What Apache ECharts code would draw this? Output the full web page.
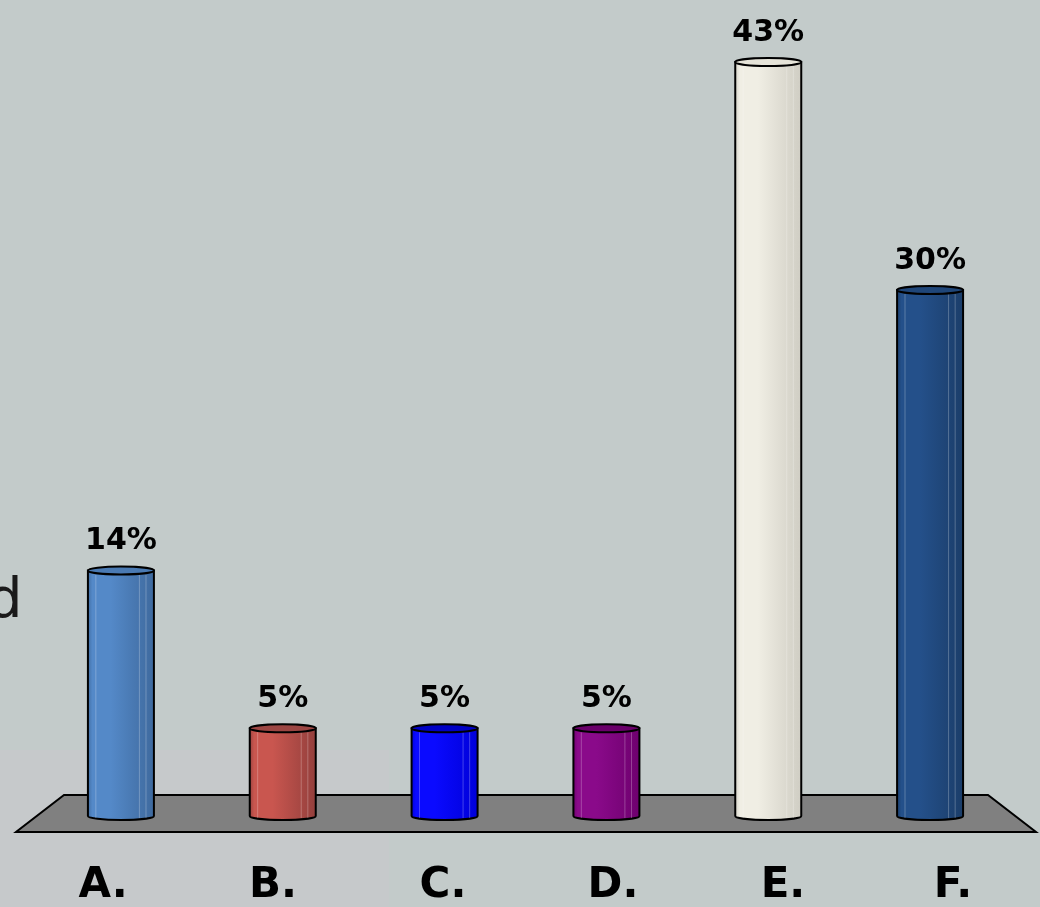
<!DOCTYPE html>
<html>
<head>
<meta charset="utf-8">
<script src="https://cdn.jsdelivr.net/npm/echarts@6/dist/echarts.min.js"></script>
<style>
html, body { margin: 0; padding: 0; background: #c3cbca; }
#main { width: 1040px; height: 907px; }
</style>
</head>
<body>
<div id="main"></div>
<script>
const categories = ['A.', 'B.', 'C.', 'D.', 'E.', 'F.']
const values = [14, 5, 5, 5, 43, 30]
const valueLabels = ['14%', '5%', '5%', '5%', '43%', '30%']
// light side, dark side, top cap
const barColors = [
  ['#5489c8', '#3e699d', '#4a7ab3'],
  ['#c9564f', '#933f3c', '#9c4643'],
  ['#0a0aff', '#0000d8', '#0000c4'],
  ['#8a0a8a', '#6e006e', '#6a006a'],
  ['#f0eee4', '#cfcdc3', '#e6e4d9'],
  ['#24508a', '#1b3d69', '#1f4679']
]

const myChart = echarts.init(document.getElementById('main'))

function renderCylinder(params, api) {
  const i = params.dataIndex
  const top = api.coord([api.value(0), api.value(1)])
  const base = api.coord([api.value(0), 0])
  const rx = 33
  const ry = 4
  const l = top[0] - rx
  const r = top[0] + rx
  const c = barColors[i]
  const bodyPath = `M${l},${top[1]} L${l},${base[1]} A${rx},${ry} 0 0 0 ${r},${base[1]} L${r},${top[1]} Z`
  const capPath = `M${l},${top[1]} A${rx},${ry} 0 0 1 ${r},${top[1]} A${rx},${ry} 0 0 1 ${l},${top[1]} Z`
  const children = [{
    type: 'path',
    shape: { pathData: bodyPath },
    style: {
      fill: new echarts.graphic.LinearGradient(0, 0, 1, 0, [
        { offset: 0, color: c[1] },
        { offset: 0.08, color: c[0] },
        { offset: 0.35, color: c[0] },
        { offset: 1, color: c[1] }
      ]),
      stroke: '#000',
      lineWidth: 2
    }
  }]
  // faint vertical streaks
  ;[0.12, 0.78, 0.88].forEach(f => {
    children.push({
      type: 'line',
      shape: { x1: l + f * 2 * rx, y1: top[1] + ry, x2: l + f * 2 * rx, y2: base[1] + ry - 2 },
      style: { stroke: 'rgba(255,255,255,0.25)', lineWidth: 1 }
    })
  })
  children.push({
    type: 'path',
    shape: { pathData: capPath },
    style: { fill: c[2], stroke: '#000', lineWidth: 2 }
  })
  children.push({
    type: 'text',
    style: {
      text: valueLabels[i],
      x: top[0],
      y: top[1] - 14,
      align: 'center',
      verticalAlign: 'bottom',
      fill: '#000',
      font: 'bold 30px "DejaVu Sans"'
    }
  })
  return { type: 'group', children: children }
}

const option = {
  backgroundColor: '#c3cbca',
  animation: false,
  graphic: [
    {
      type: 'rect',
      z: -10,
      shape: { x: 0, y: 750, width: 389, height: 157 },
      style: { fill: '#c6c9cb' }
    },
    {
      type: 'polygon',
      z: 0,
      shape: { points: [[64, 795], [988, 795], [1036, 832], [16, 832]] },
      style: { fill: '#808080', stroke: '#000', lineWidth: 2 }
    },
    {
      type: 'text',
      z: 0,
      left: -13,
      top: 574,
      style: {
        text: 'd',
        fill: '#1a1a1a',
        font: '56px "DejaVu Sans"'
      }
    }
  ],
  grid: [
    { left: 40, right: 29, top: 27, bottom: 91 },
    { left: 18, right: 2, top: 27, bottom: 91 }
  ],
  xAxis: [
    {
      type: 'category',
      gridIndex: 0,
      data: categories,
      axisLine: { show: false },
      axisTick: { show: false },
      axisLabel: { show: false }
    },
    {
      type: 'category',
      gridIndex: 1,
      data: categories,
      axisLine: { show: false },
      axisTick: { show: false },
      axisLabel: {
        margin: 53,
        color: '#000',
        fontFamily: 'DejaVu Sans',
        fontWeight: 'bold',
        fontSize: 42
      }
    }
  ],
  yAxis: [
    { type: 'value', gridIndex: 0, min: 0, max: 45, show: false },
    { type: 'value', gridIndex: 1, min: 0, max: 45, show: false }
  ],
  series: [{
    type: 'custom',
    xAxisIndex: 0,
    yAxisIndex: 0,
    renderItem: renderCylinder,
    data: values.map((v, i) => [i, v])
  }]
}
myChart.setOption(option)
</script>
</body>
</html>
